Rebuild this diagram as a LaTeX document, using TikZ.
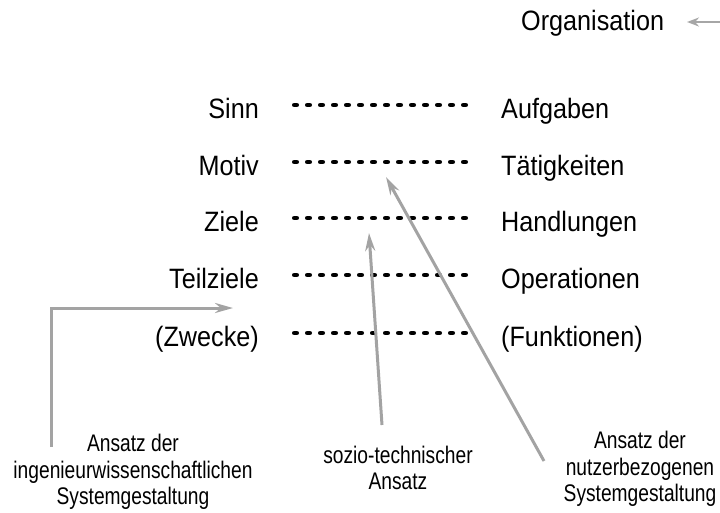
\documentclass[tikz,border=0pt]{standalone}
\usepackage{fontspec}
\setmainfont{Liberation Sans}
\newfontfamily\rowfont[FakeStretch=0.9]{Liberation Sans}
\newfontfamily\botfont[FakeStretch=0.8]{Liberation Sans}
\usetikzlibrary{arrows.meta}
\begin{document}
\begin{tikzpicture}[x=1pt,y=-1pt,
  lbl/.style={font=\rowfont\fontsize{28}{32}\selectfont, inner sep=0pt},
  leftlbl/.style={lbl, anchor=base east},
  rightlbl/.style={lbl, anchor=base west},
  botlbl/.style={font=\botfont\fontsize{24}{26.5}\selectfont, align=center, inner sep=0pt},
  dotrow/.style={line width=4.7pt, line cap=round, dash pattern=on 2.3pt off 10.7pt, draw=black},
  grayarrow/.style={draw=black!36, line width=3pt, -{Stealth[length=18pt,width=10pt]}},
  orgarrow/.style={draw=black!35, line width=2pt, -{Stealth[length=12pt,width=9pt]}}
]
\useasboundingbox (0,0) rectangle (720,512);
% Organisation
\node[lbl, anchor=base west] (org) at (521,30) {Organisation};
\coordinate (o0) at (722,22);
\coordinate (o1) at (687,22);
\draw[orgarrow] (o0) -- (o1);
% rows
\foreach \i/\y/\l/\r in {1/105/Sinn/Aufgaben, 2/162/Motiv/Tätigkeiten, 3/218/Ziele/Handlungen, 4/275/Teilziele/Operationen, 5/333/(Zwecke)/(Funktionen)}{
  \node[leftlbl] (l\i) at (259,\y+13) {\l};
  \node[rightlbl] (r\i) at (501,\y+13) {\r};
  \coordinate (ds\i) at (294.35,\y);
  \coordinate (de\i) at (465.65,\y);
  \draw[dotrow] (ds\i) -- (de\i);
}
% bottom labels
\node[botlbl] (b1) at (133,472) {Ansatz der\\ingenieurwissenschaftlichen\\Systemgestaltung};
\node[botlbl] (b2) at (398,468) {sozio-technischer\\Ansatz};
\node[botlbl] (b3) at (640,469) {Ansatz der\\nutzerbezogenen\\Systemgestaltung};
% arrows
\coordinate (a1s) at (51,447);
\coordinate (a1c) at (51,308);
\coordinate (a1e) at (233,308);
\draw[grayarrow] (a1s) -- (a1c) -- (a1e);
\coordinate (a2s) at (382,425);
\coordinate (a2e) at (369,233);
\draw[grayarrow] (a2s) -- (a2e);
\coordinate (a3s) at (544,461);
\coordinate (a3e) at (386,177);
\draw[grayarrow] (a3s) -- (a3e);
\end{tikzpicture}
\end{document}
